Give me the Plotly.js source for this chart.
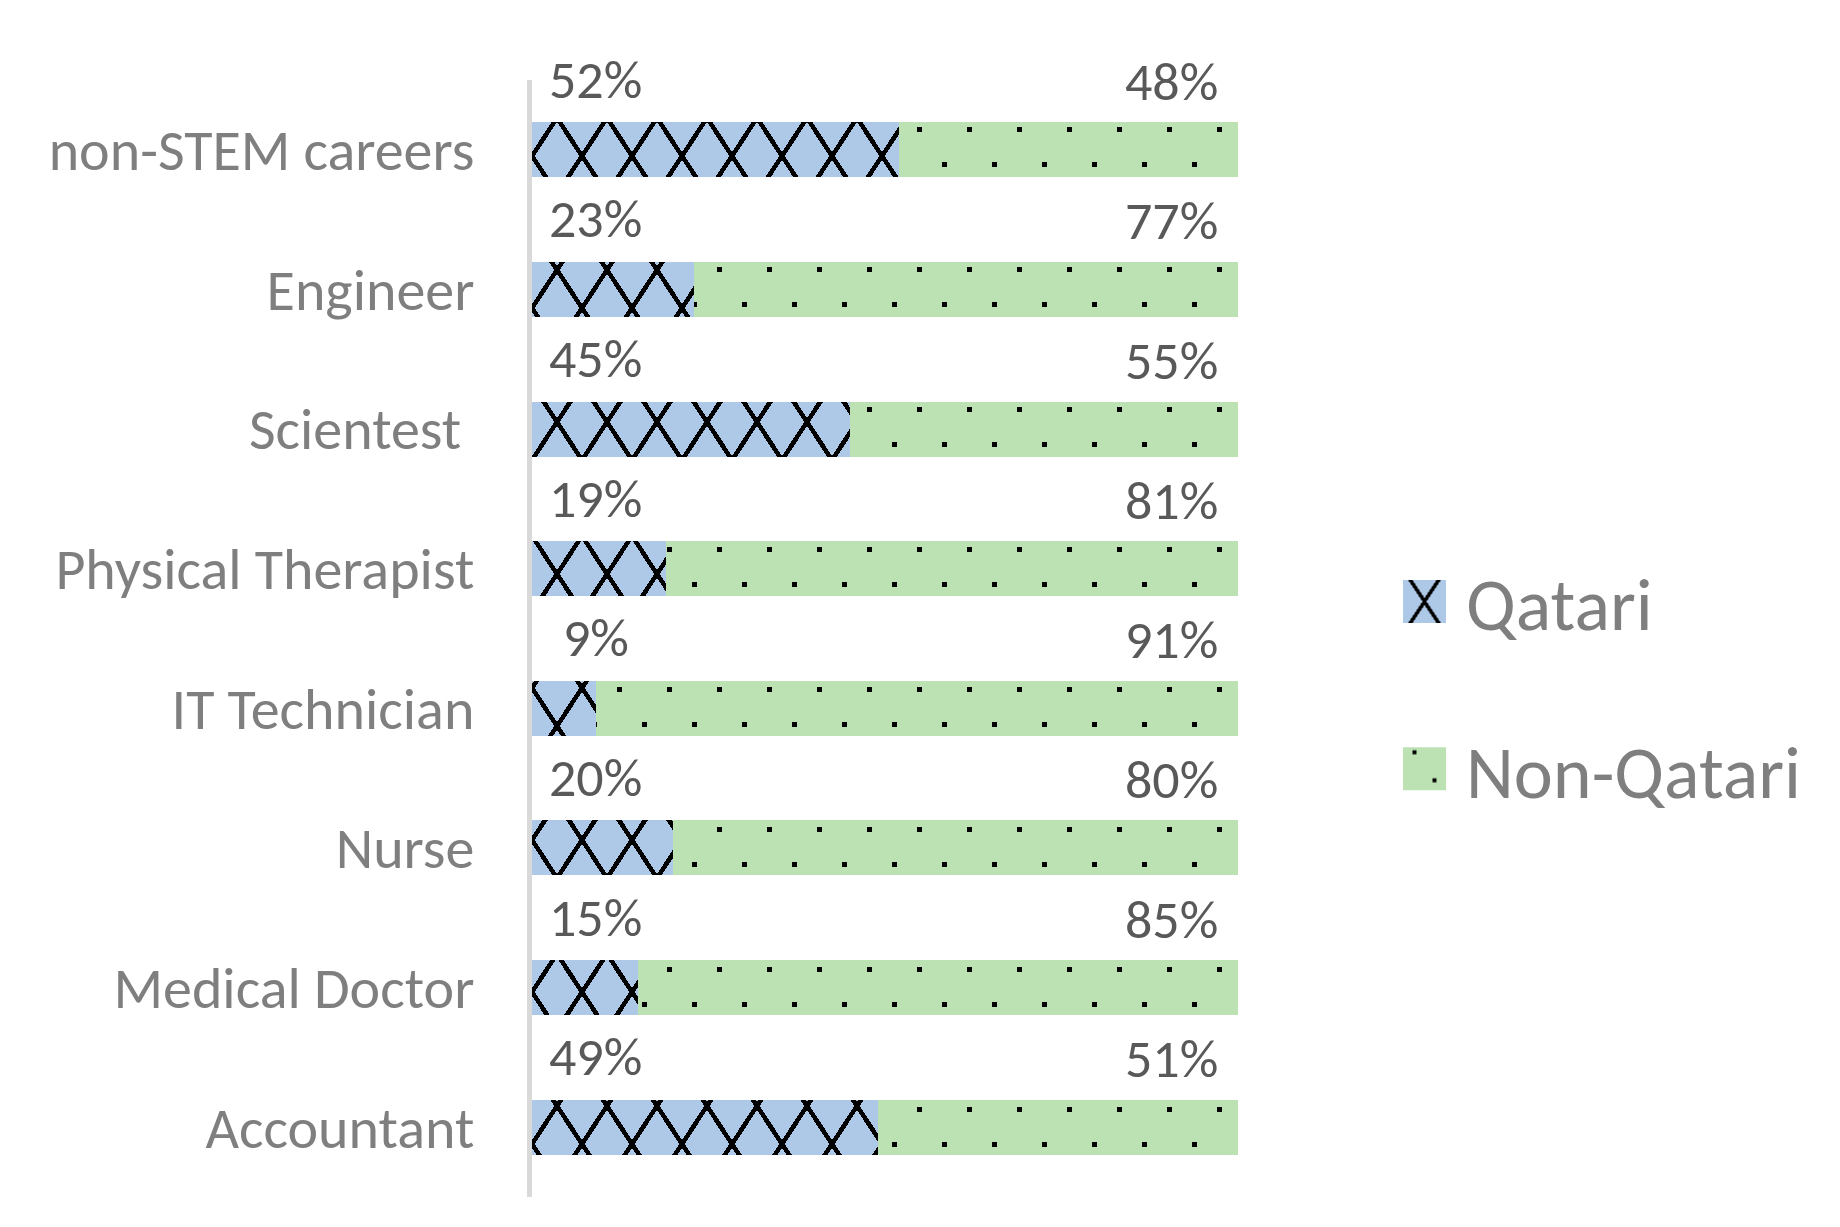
<!DOCTYPE html>
<html><head><meta charset="utf-8">
<script src="https://cdn.plot.ly/plotly-3.0.1.min.js"></script>
<style>html,body{margin:0;padding:0;background:#fff}#chart{width:1840px;height:1227px}</style>
</head><body><div id="chart"></div>
<script>
// Data (top-to-bottom order as shown)
const categories = ["non-STEM careers", "Engineer", "Scientest\u00a0", "Physical Therapist", "IT Technician", "Nurse", "Medical Doctor", "Accountant"];
const qatari = [0.52, 0.23, 0.45, 0.19, 0.09, 0.20, 0.15, 0.49];
const nonQatari = [0.48, 0.77, 0.55, 0.81, 0.91, 0.80, 0.85, 0.51];
const seriesNames = ["Qatari", "Non-Qatari"];

const FONT = "Carlito, Lato, 'Open Sans', sans-serif";
const BLUE = "#aec8e8", GREEN = "#bce2b4";
const pct = v => Math.round(v * 100) + "%";

const traces = [
  {
    type: "bar", orientation: "h", name: seriesNames[0], legendgroup: "a",
    y: categories, x: qatari, hoverinfo: "skip",
    marker: { color: BLUE, line: { width: 0 },
      pattern: { shape: "x", size: 35, solidity: 0.2, fgcolor: "#000000", bgcolor: BLUE, fillmode: "overlay" } }
  },
  {
    type: "bar", orientation: "h", name: seriesNames[1], legendgroup: "b",
    y: categories, x: nonQatari, hoverinfo: "skip",
    marker: { color: GREEN, line: { width: 0 },
      pattern: { shape: ".", size: 35, solidity: 0.03, fgcolor: "#000000", bgcolor: GREEN, fillmode: "overlay" } }
  }
];

const annotations = [];
categories.forEach((c, i) => {
  annotations.push({
    x: 0.09, y: c, xref: "x", yref: "y", text: pct(qatari[i]), showarrow: false,
    xanchor: "center", yanchor: "middle", yshift: 70,
    font: { family: FONT, size: 54, color: "#595959" }
  });
  annotations.push({
    x: qatari[i] + nonQatari[i], y: c, xref: "x", yref: "y", text: pct(nonQatari[i]), showarrow: false,
    xanchor: "right", yanchor: "middle", yshift: 68, xshift: -18,
    font: { family: FONT, size: 54, color: "#595959" }
  });
});

const layout = {
  width: 1840, height: 1227,
  paper_bgcolor: "#ffffff", plot_bgcolor: "#ffffff",
  margin: { l: 532, r: 602, t: 80, b: 30 },
  barmode: "stack", bargap: 0.606,
  font: { family: FONT, color: "#7f7f7f" },
  xaxis: { range: [0, 1], showgrid: false, zeroline: false, showticklabels: false, showline: false, fixedrange: true },
  yaxis: { type: "category", range: [categories.length - 0.5, -0.5], autorange: false, showgrid: false, zeroline: false,
    showline: true, linecolor: "#d9d9d9", linewidth: 5, ticks: "", ticklabelstandoff: 41,
    tickfont: { family: FONT, size: 58, color: "#7f7f7f" }, fixedrange: true },
  showlegend: true,
  legend: { x: 1.2238, xanchor: "left", y: 0.458, yanchor: "middle", traceorder: "grouped", tracegroupgap: 68,
    itemwidth: 60, font: { family: FONT, size: 74, color: "#7f7f7f" }, bgcolor: "rgba(0,0,0,0)" },
  annotations: annotations
};

function restylePatterns(gd) {
  gd.querySelectorAll("pattern").forEach(p => {
    if (p.querySelector("circle")) {
      // staggered square dots
      p.setAttribute("width", 50); p.setAttribute("height", 70);
      p.innerHTML = '<rect width="50" height="70" fill="' + GREEN + '"/>' +
        '<rect x="10" y="12" width="5" height="5" fill="#000"/>' +
        '<rect x="35" y="47" width="5" height="5" fill="#000"/>';
    } else {
      // outlined diamond lattice
      p.setAttribute("width", 50); p.setAttribute("height", 76);
      p.innerHTML = '<rect width="50" height="76" fill="' + BLUE + '"/>' +
        '<path d="M-25,-38L75,114M75,-38L-25,114" stroke="#000" stroke-width="4.5" fill="none" shape-rendering="crispEdges"/>';
    }
  });
}

Plotly.newPlot("chart", traces, layout, { staticPlot: true, displayModeBar: false }).then(gd => {
  restylePatterns(gd);
  // enlarge legend swatches to match the reference
  gd.querySelectorAll(".legend .traces").forEach(t => {
    const txt = t.querySelector("text.legendtext");
    const p = t.querySelector(".legendpoints path");
    if (!txt || !p) return;
    const tx = parseFloat(txt.getAttribute("x")) || 40;
    p.setAttribute("d", "M21.5,21.5H-21.5V-21.5H21.5Z");
    p.setAttribute("transform", "translate(" + (tx - 41.5) + ",0)");
  });
});
</script>
</body></html>
